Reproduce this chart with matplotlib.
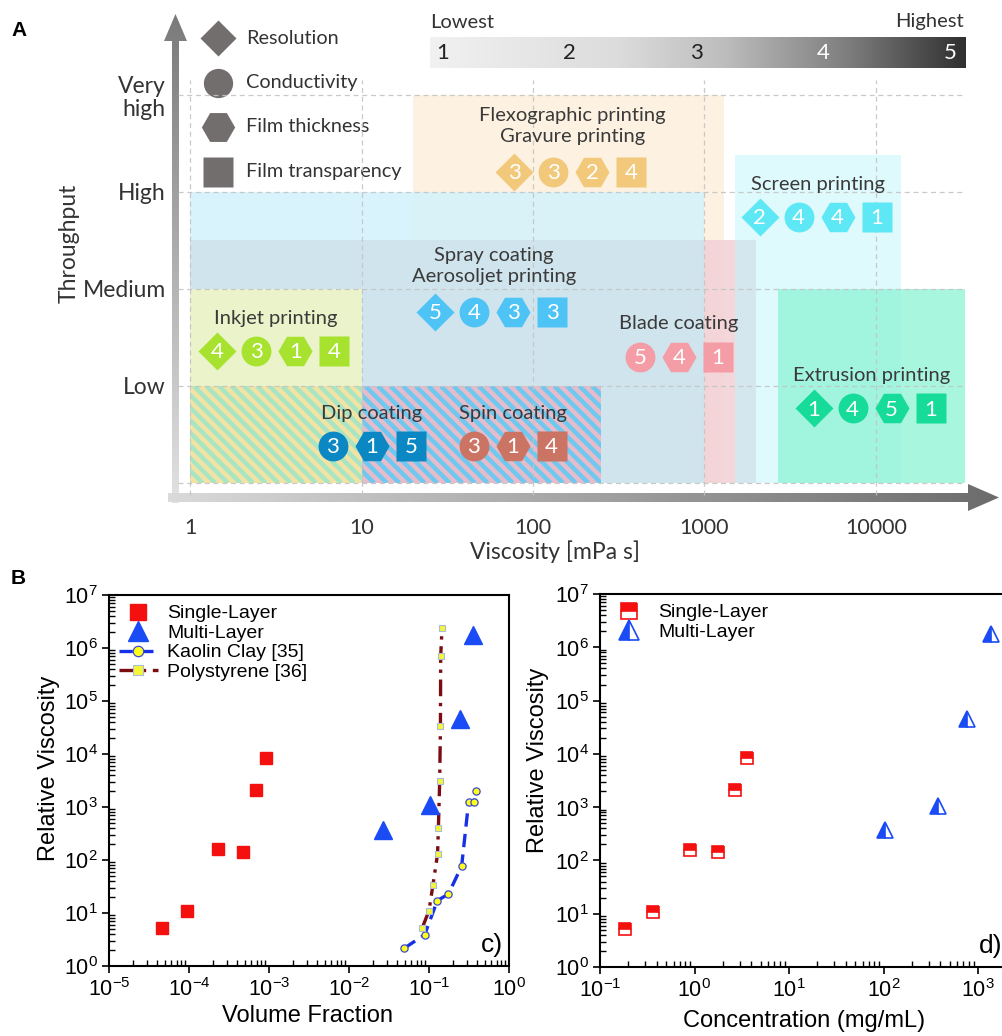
import numpy as np
import matplotlib
matplotlib.use('Agg')
import matplotlib.pyplot as plt
import matplotlib.transforms as mtransforms
from matplotlib.patches import Rectangle, Polygon
from matplotlib.collections import LineCollection
from matplotlib.colors import LinearSegmentedColormap
from matplotlib.lines import Line2D
from matplotlib.ticker import NullLocator, LogLocator

plt.rcParams['mathtext.fontset'] = 'custom'
plt.rcParams['mathtext.rm'] = 'Liberation Sans'
plt.rcParams['mathtext.it'] = 'Liberation Sans:italic'
plt.rcParams['mathtext.bf'] = 'Liberation Sans:bold'
plt.rcParams['font.family'] = ['Lato', 'DejaVu Sans']

W, H, DPI = 1002, 1036, 100

# ======================= Panel A data =======================
throughput_grid = [0, 1, 2, 3, 4]
throughput_ticks = [1, 2, 3, 4]
throughput_labels = ['Low', 'Medium', 'High', 'Very\nhigh']
viscosity_ticks = [1, 10, 100, 1000, 10000]
viscosity_labels = ['1', '10', '100', '1000', '10000']

property_names = ['Resolution', 'Conductivity', 'Film thickness', 'Film transparency']
property_markers = ['D', 'o', 'H', 's']
property_sizes = [19.0, 21.5, 24.5, 21.5]

# processing windows: viscosity range (mPa s) and throughput range
box_names = ['Flexographic/Gravure', 'Aerosoljet', 'Screen', 'Spray', 'Blade', 'Extrusion', 'Inkjet']
box_vmin = [20, 1, 1500, 1, 1000, 2700, 1]
box_vmax = [1300, 1000, 14000, 2000, 1500, 33000, 10]
box_tmax = [4.0, 3.0, 3.38, 2.5, 2.5, 2.0, 2.0]
box_colors = ['#FDF2E1', '#D4F2FB', '#DCFAFD', '#CBD9E5', '#FBD0D2', '#8CF3D4', '#EAF3C9']
box_alpha = [1.0, 0.9, 0.9, 0.55, 0.7, 0.75, 1.0]
box_z = [1, 2, 2, 3, 4, 4, 5]

hatch_names = ['Dip coating', 'Spin coating']
hatch_vmin = [1, 10]
hatch_vmax = [10, 250]
hatch_tmax = [1.0, 1.0]
hatch_bg = ['#F2E3A5', '#E6BCCB']
hatch_fg = ['#A8E5C2', '#6FC8EF']

method_labels = ['Flexographic printing\nGravure printing', 'Screen printing',
                 'Spray coating\nAerosoljet printing', 'Inkjet printing', 'Blade coating',
                 'Extrusion printing', 'Dip coating', 'Spin coating']
method_visc = [170, 4590, 59, 3.17, 710, 9480, 11.5, 76]
method_thru = [3.21, 2.74, 1.76, 1.36, 1.30, 0.77, 0.38, 0.38]
method_colors = ['#F2C97A', '#5EE7F5', '#4EC3F5', '#A7E22E', '#F59DA6', '#17DB98', '#0B88C4', '#CB7464']
rating_resolution = [3, 2, 5, 4, None, 1, None, None]
rating_conductivity = [3, 4, 4, 3, 5, 4, 3, 3]
rating_thickness = [2, 4, 3, 1, 4, 5, 1, 1]
rating_transparency = [4, 1, 3, 4, 1, 1, 5, 4]

scale_values = [1, 2, 3, 4, 5]

# ======================= Panel B data =======================
vf_single = [4.6e-5, 9.4e-5, 2.3e-4, 4.7e-4, 6.95e-4, 9.3e-4]
rv_single = [5.3, 10.8, 160, 142, 2100, 8300]
vf_multi = [0.0266, 0.102, 0.242, 0.355]
rv_multi = [368, 1090, 45000, 1.76e6]
vf_kaolin = [0.0487, 0.0883, 0.127, 0.175, 0.256, 0.313, 0.369, 0.383]
rv_kaolin = [2.15, 3.9, 17.1, 22.8, 77, 1260, 1260, 2000]
vf_ps = [0.0826, 0.100, 0.112, 0.128, 0.131, 0.136, 0.139, 0.140, 0.1454]
rv_ps = [5.3, 11.1, 33.8, 130, 396, 3100, 33700, 7.0e5, 2.35e6]
conc_single = [0.183, 0.361, 0.90, 1.79, 2.70, 3.58]
rvc_single = [5.2, 10.7, 156, 141, 2090, 8340]
conc_multi = [104, 373, 766, 1380]
rvc_multi = [370, 1065, 44500, 1.78e6]
exp_vf = [-5, -4, -3, -2, -1, 0]
exp_conc = [-1, 0, 1, 2, 3]
exp_rv = [0, 1, 2, 3, 4, 5, 6, 7]

# ======================= Figure =======================
fig = plt.figure(figsize=(W / DPI, H / DPI), dpi=DPI)
ov = fig.add_axes([0, 0, 1, 1], zorder=0)
ov.axis('off')

TXT = '#333333'

# ---- Panel A axes (calibrated: 1 mPa s at x=190 px, 171.5 px/decade; level 0 at y=483 px, 97 px/level)
aL, aR, aT, aB = 170, 1000, 10, 500
x1px, decpx, y0px, levpx = 190, 171.5, 483, 97
axA = fig.add_axes([aL / W, 1 - aB / H, (aR - aL) / W, (aB - aT) / H], zorder=1)
axA.patch.set_alpha(0)
axA.set_xscale('log')
axA.set_xlim(10 ** ((aL - x1px) / decpx), 10 ** ((aR - x1px) / decpx))
axA.set_ylim((y0px - aB) / levpx, (y0px - aT) / levpx)
for s in axA.spines.values():
    s.set_visible(False)

for i in range(len(box_names)):
    axA.add_patch(Rectangle((box_vmin[i], 0), box_vmax[i] - box_vmin[i], box_tmax[i],
                            facecolor=box_colors[i], alpha=box_alpha[i], lw=0, zorder=box_z[i]))

period = 12.6
for i in range(len(hatch_names)):
    r = Rectangle((hatch_vmin[i], 0), hatch_vmax[i] - hatch_vmin[i], hatch_tmax[i],
                  facecolor=hatch_bg[i], lw=0, zorder=6)
    axA.add_patch(r)
    (dx0, dy0), (dx1, dy1) = axA.transData.transform([(hatch_vmin[i], 0), (hatch_vmax[i], hatch_tmax[i])])
    hh = dy1 - dy0
    xs = np.arange(dx0 - hh, dx1 + period, period)
    segs = [[(x, dy1), (x + hh, dy0)] for x in xs]
    lc = LineCollection(segs, colors=hatch_fg[i], linewidths=period / np.sqrt(2) / 2 * 72 / DPI,
                        transform=mtransforms.IdentityTransform(), zorder=6.5)
    axA.add_collection(lc, autolim=False)
    lc.set_clip_path(r)

gridc = '#C4C4C4'
axA.hlines(throughput_grid, 0.85, 33000, colors=gridc, linestyles=(0, (4, 3)), lw=0.9, zorder=7, alpha=0.9)
axA.vlines(viscosity_ticks, -0.12, 4.15, colors=gridc, linestyles=(0, (4, 3)), lw=0.9, zorder=7, alpha=0.9)

axA.set_xticks(viscosity_ticks, viscosity_labels)
axA.xaxis.set_minor_locator(NullLocator())
axA.set_yticks(throughput_ticks, throughput_labels)
axA.tick_params(axis='both', length=0, colors=TXT)
axA.tick_params(axis='x', pad=13, labelsize=15.5)
axA.tick_params(axis='y', pad=3, labelsize=16.5)
for t in axA.get_yticklabels():
    t.set_linespacing(1.1)
axA.set_xlabel('Viscosity [mPa s]', fontsize=16.5, color=TXT)
axA.xaxis.set_label_coords((555 - aL) / (aR - aL), (aB - 540) / (aB - aT))
axA.set_ylabel('Throughput', fontsize=16.5, color=TXT)
axA.yaxis.set_label_coords((80 - aL) / (aR - aL), (aB - 243) / (aB - aT))

ratings = list(zip(rating_resolution, rating_conductivity, rating_thickness, rating_transparency))
spacing_in = 0.39
for i in range(len(method_labels)):
    present = [(k, r) for k, r in enumerate(ratings[i]) if r is not None]
    n = len(present)
    for j, (k, r) in enumerate(present):
        dx = (j - (n - 1) / 2) * spacing_in
        tr = axA.transData + mtransforms.ScaledTranslation(dx, 0, fig.dpi_scale_trans)
        axA.plot([method_visc[i]], [method_thru[i]], marker=property_markers[k], ms=property_sizes[k],
                 color=method_colors[i], mec='none', ls='none', transform=tr, zorder=8)
        trn = axA.transData + mtransforms.ScaledTranslation(dx, -0.012, fig.dpi_scale_trans)
        axA.text(method_visc[i], method_thru[i], str(r), transform=trn, ha='center', va='center',
                 fontsize=16, color='white', zorder=9)
    nl = method_labels[i].count('\n') + 1
    dy = (33 + 13 * (nl - 1)) / DPI
    trt = axA.transData + mtransforms.ScaledTranslation(0, dy, fig.dpi_scale_trans)
    axA.text(method_visc[i], method_thru[i], method_labels[i], transform=trt, ha='center', va='center',
             fontsize=14.5, color='#3A3A3A', linespacing=1.28, zorder=9)

# ---- decorations in pixel overlay
def grad_poly(pts, vertical, c0, c1):
    pts = np.array(pts, float)
    poly = Polygon(pts, closed=True, facecolor='none', edgecolor='none', transform=ov.transData)
    ov.add_patch(poly)
    cm = LinearSegmentedColormap.from_list('g', [c0, c1])
    g = np.linspace(0, 1, 256)
    arr = g[:, None] if vertical else g[None, :]
    im = ov.imshow(arr, cmap=cm, aspect='auto', interpolation='bilinear',
                   extent=(pts[:, 0].min(), pts[:, 0].max(), pts[:, 1].max(), pts[:, 1].min()), zorder=1)
    im.set_clip_path(poly)

grad_poly([(172, 503), (179, 503), (179, 41), (187, 41), (175.5, 14), (164, 41), (172, 41)],
          True, '#7A7A7A', '#E2E2E2')
grad_poly([(168, 493), (968, 493), (968, 484), (999, 497.5), (968, 511), (968, 502), (168, 502)],
          False, '#DADADA', '#6C6C6C')

# property legend
leg_y0, leg_dy = 38, 44.5
for k in range(4):
    ov.plot([218], [leg_y0 + k * leg_dy], marker=property_markers[k], ms=property_sizes[k] * 0.98,
            color='#736E6E', mec='none', ls='none', zorder=3)
    ov.text(246, leg_y0 + k * leg_dy, property_names[k], ha='left', va='center', fontsize=14.3, color=TXT)

# grey scale bar
cmap_bar = LinearSegmentedColormap.from_list('bar', [(0, '#F1F1F1'), (0.35, '#DCDCDC'), (0.55, '#BDBDBD'),
                                                      (0.78, '#7E7E7E'), (1.0, '#303030')])
ov.imshow(np.linspace(0, 1, 256)[None, :], cmap=cmap_bar, aspect='auto', extent=(430, 966, 68, 37), zorder=1)
for v, xp in zip(scale_values, np.linspace(443, 950, len(scale_values))):
    ov.text(xp, 53, str(v), ha='center', va='center', fontsize=16, color='#222222' if v <= 3 else 'white',
            zorder=3)
ov.text(430, 22, 'Lowest', ha='left', va='center', fontsize=14.5, color=TXT)
ov.text(964, 22, 'Highest', ha='right', va='center', fontsize=14.5, color=TXT)

ov.text(11, 31, 'A', ha='left', va='center', fontsize=15, fontweight='bold', family='Liberation Sans')
ov.text(11, 578, 'B', ha='left', va='center', fontsize=15, fontweight='bold', family='Liberation Sans')
ov.set_xlim(0, W)
ov.set_ylim(H, 0)

# ======================= Panel B =======================
AF = 'Liberation Sans'

def style_log_axes(ax, xexp, yexp):
    ax.set_xscale('log')
    ax.set_yscale('log')
    ax.set_xticks([10.0 ** e for e in xexp], [f'$10^{{{e}}}$' for e in xexp])
    ax.set_yticks([10.0 ** e for e in yexp], [f'$10^{{{e}}}$' for e in yexp])
    ax.xaxis.set_minor_locator(LogLocator(base=10, subs=np.arange(2, 10)))
    ax.yaxis.set_minor_locator(LogLocator(base=10, subs=np.arange(2, 10)))
    ax.tick_params(which='major', direction='out', length=5, width=1.2, labelsize=15.5, pad=3)
    ax.tick_params(which='minor', direction='in', length=4, width=1.0)
    for s in ax.spines.values():
        s.set_linewidth(1.5)

ax1 = fig.add_axes([109 / W, 1 - 966 / H, 400 / W, 371 / H], zorder=2)
style_log_axes(ax1, exp_vf, exp_rv)
ax1.set_xlim(1e-5, 1)
ax1.set_ylim(1, 1e7)
ax1.plot(vf_kaolin, rv_kaolin, color='#1530E6', ls=(0, (4, 2.2)), lw=2.4, marker='o', ms=5.2,
         mfc='#FFFF1A', mec='#3B4BD0', mew=0.9, zorder=3)
ax1.plot(vf_ps, rv_ps, color='#7A0C12', ls=(0, (5, 2, 1, 2)), lw=2.4, marker='s', ms=4.8,
         mfc='#F5F53A', mec='#A9BCD6', mew=0.8, zorder=4)
ax1.plot(vf_single, rv_single, ls='none', marker='s', ms=9, color='#F51010', mec='#F51010', zorder=5)
ax1.plot(vf_multi, rv_multi, ls='none', marker='^', ms=12.5, color='#1A4BF5', mec='#1A4BF5', zorder=5)
h1 = [Line2D([], [], ls='none', marker='s', ms=11.5, color='#F51010'),
      Line2D([], [], ls='none', marker='^', ms=15, color='#1A4BF5'),
      Line2D([], [], color='#1530E6', ls=(0, (4, 2.2)), lw=2.4, marker='o', ms=7.5, mfc='#FFFF1A',
             mec='#3B4BD0', mew=0.9),
      Line2D([], [], color='#7A0C12', ls=(0, (5, 2, 1, 2)), lw=2.4, marker='s', ms=7, mfc='#F5F53A',
             mec='#A9BCD6', mew=0.8)]
ax1.legend(h1, ['Single-Layer', 'Multi-Layer', 'Kaolin Clay [35]', 'Polystyrene [36]'],
           loc='upper left', frameon=False, prop={'family': AF, 'size': 14}, handlelength=2.0,
           handletextpad=0.5, labelspacing=0.1, borderaxespad=0.3, borderpad=0.2)
ax1.set_xlabel('Volume Fraction', fontsize=17, family=AF)
ax1.xaxis.set_label_coords(0.4975, (966 - 1005) / 371)
ax1.set_ylabel('Relative Viscosity', fontsize=17, family=AF)
ax1.yaxis.set_label_coords((60 - 109) / 400, (966 - 768) / 371)
ax1.text(0.985, 0.025, 'c)', transform=ax1.transAxes, ha='right', va='bottom', fontsize=19, family=AF)

ax2 = fig.add_axes([600 / W, 1 - 967 / H, 408 / W, 373 / H], zorder=2)
style_log_axes(ax2, exp_conc, exp_rv)
ax2.set_xlim(0.1, 10 ** (-1 + 408 / 94.5))
ax2.set_ylim(1, 1e7)
ax2.plot(conc_single, rvc_single, ls='none', marker='s', ms=9, color='#F51010', mec='#F51010', mew=1.2,
         fillstyle='top', mfc='#F51010', mfcalt='white', zorder=5)
ax2.plot(conc_multi, rvc_multi, ls='none', marker='^', ms=12, color='#1A4BF5', mec='#1A4BF5', mew=1.2,
         fillstyle='left', mfc='#1A4BF5', mfcalt='white', zorder=5)
h2 = [Line2D([], [], ls='none', marker='s', ms=11.5, color='#F51010', mec='#F51010', mew=1.2,
             fillstyle='top', mfc='#F51010', mfcalt='white'),
      Line2D([], [], ls='none', marker='^', ms=14, color='#1A4BF5', mec='#1A4BF5', mew=1.2,
             fillstyle='left', mfc='#1A4BF5', mfcalt='white')]
ax2.legend(h2, ['Single-Layer', 'Multi-Layer'], loc='upper left', frameon=False,
           prop={'family': AF, 'size': 14}, handlelength=2.0, handletextpad=0.5,
           labelspacing=0.1, borderaxespad=0.3, borderpad=0.2)
ax2.set_xlabel('Concentration (mg/mL)', fontsize=17, family=AF)
ax2.xaxis.set_label_coords(0.5, (967 - 1010) / 373)
ax2.set_ylabel('Relative Viscosity', fontsize=17, family=AF)
ax2.yaxis.set_label_coords((549 - 600) / 408, (967 - 760) / 373)
ax2.text(0.985, 0.025, 'd)', transform=ax2.transAxes, ha='right', va='bottom', fontsize=19, family=AF)

fig.savefig('out.png', dpi=DPI)
